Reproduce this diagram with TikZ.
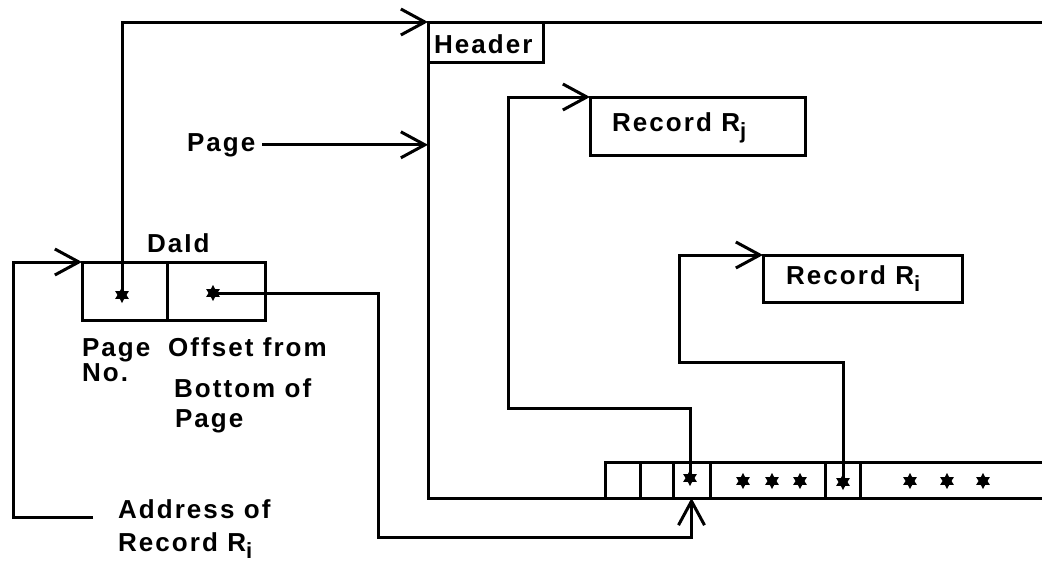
\documentclass[tikz,border=0pt]{standalone}
\usepackage{fontspec}
\setmainfont{Liberation Sans}[LetterSpace=8,UprightFont=*-Bold]
\usetikzlibrary{arrows.meta,shapes.geometric}
\newcommand\subsc[1]{\raisebox{-7pt}{\fontsize{22}{22}\selectfont #1}}
\begin{document}
\begin{tikzpicture}[x=1pt,y=-1pt,line width=3pt,
  lbl/.style={anchor=base west,inner sep=0pt,outer sep=0pt,font=\fontsize{26}{26}\selectfont},
  cell/.style={draw,rectangle,inner sep=0pt,outer sep=0pt},
  arr/.style={-{Straight Barb[length=24pt,width=26pt]}},
  ast/.style={star,star points=6,star point ratio=1.8,fill=black,draw=none,inner sep=0pt,minimum size=16pt}]
\useasboundingbox (0,0) rectangle (1042,562);

% page frame
\coordinate (fTR) at (1045,22);
\coordinate (fTL) at (428,22);
\coordinate (fBL) at (428,498);
\coordinate (fBR) at (1045,498);
\draw (fTR) -- (fTL) -- (fBL) -- (fBR);

% header
\node[cell,minimum width=115pt,minimum height=40pt] (hdr) at (485.5,42) {};
\node[lbl] (hdrtxt) at (434,53) {Header};

% records
\node[cell,minimum width=215pt,minimum height=58pt] (rjbox) at (697.5,126) {};
\node[lbl] (rjtxt) at (612,131) {Record R\subsc{j}};
\node[cell,minimum width=199pt,minimum height=47pt] (ribox) at (862.5,278.5) {};
\node[lbl] (ritxt) at (786,284) {Record R\subsc{i}};

% slot array
\node[cell,minimum width=35pt,minimum height=36pt] (slot1) at (622.5,480) {};
\node[cell,minimum width=33pt,minimum height=36pt] (slot2) at (656.5,480) {};
\node[cell,minimum width=37pt,minimum height=36pt] (slot3) at (691.5,480) {};
\node[cell,minimum width=115pt,minimum height=36pt] (slot4) at (767.5,480) {};
\node[cell,minimum width=35pt,minimum height=36pt] (slot5) at (842.5,480) {};
\coordinate (slotR) at (1045,462);
\draw (slot5.north east) -- (slotR);

% DaId
\node[cell,minimum width=85pt,minimum height=58pt] (dpage) at (124.5,291) {};
\node[cell,minimum width=98pt,minimum height=58pt] (doff) at (216,291) {};
\node[lbl] (daid) at (147,252) {DaId};

% labels
\node[lbl] (pagelbl) at (187,151) {Page};
\node[lbl] (pgno1) at (82,356) {Page};
\node[lbl] (pgno2) at (82,381) {No.};
\node[lbl] (off1) at (168,356) {Offset from};
\node[lbl] (off2) at (174,397) {Bottom of};
\node[lbl] (off3) at (175,427) {Page};
\node[lbl] (addr1) at (118,518) {Address of};
\node[lbl] (addr2) at (118,551) {Record R\subsc{i}};

% turn points
\coordinate (rjc) at (508,408);
\coordinate (ric) at (679,362);
\coordinate (oc) at (378,537);
\coordinate (lstart) at (93,517);
\coordinate (lc) at (13,262);

% stars
\node[ast] (s1) at (122,295) {};
\node[ast] (s2) at (213,293) {};
\node[ast] (s3) at (690,478) {};
\node[ast] (s4) at (843,482) {};
\foreach \x/\n in {743/a,772/b,800/c,910/d,947/e,983/f}
  \node[ast] (m\n) at (\x,481) {};

% connectors
\draw[arr] (s1.center) |- (hdr.north west);
\draw[arr] ([xshift=7pt]pagelbl.east) -- (fTL |- pagelbl.east);
\draw[arr] (s3.center) |- (rjc) |- (rjbox.north west);
\draw[arr] (s4.center) |- (ric) |- (ribox.north west);
\draw[arr] (s2.center) -| (oc) -| (slot3.south);
\draw[arr] (lstart) -| (lc) -- (dpage.north west);
\end{tikzpicture}
\end{document}
